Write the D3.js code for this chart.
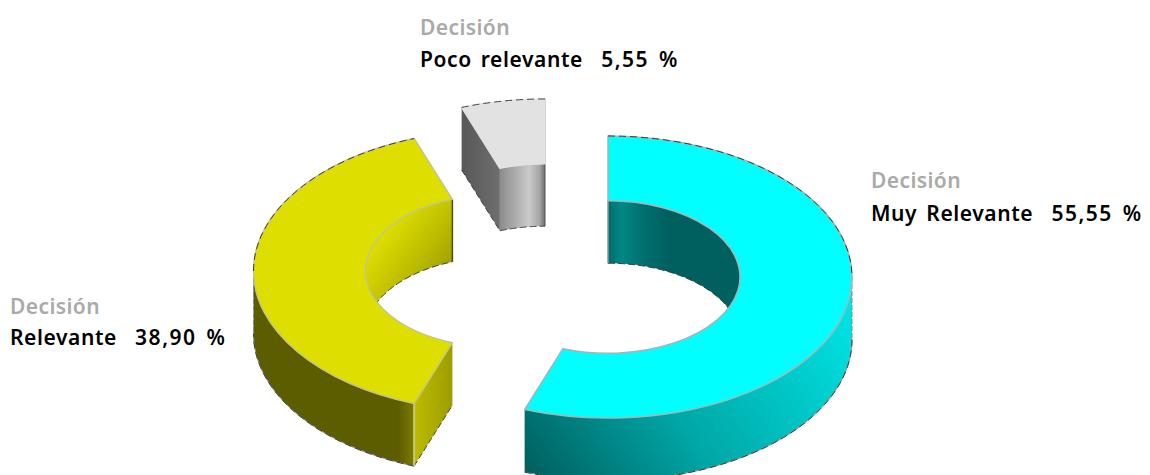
<!DOCTYPE html>
<html>
<head>
<meta charset="utf-8">
<script src="https://cdn.jsdelivr.net/npm/d3@7"></script>
<style>
html,body{margin:0;padding:0;background:#fff}
svg{display:block}
text{font-family:"Noto Sans",sans-serif;font-weight:600;white-space:pre}
</style>
</head>
<body>
<div id="chart"></div>
<script>
const categories = ["Muy Relevante", "Relevante", "Poco relevante"];
const values = [55.55, 38.90, 5.55];
const groupLabel = "Decisión";

const W = 1150, H = 475;
const svg = d3.select("#chart").append("svg").attr("width", W).attr("height", H);
const defs = svg.append("defs");

const outerR = 244, innerR = 132, tilt = 0.578, depth = 62.5;
const centers = [[608, 277], [497.5, 271], [545, 240]];
const labelPos = [[871, 188, 221], [10, 314, 345], [420, 35, 67]];
const fmt = d3.formatLocale({decimal: ",", thousands: ".", grouping: [3], currency: ["", ""]}).format(".2f");

const styles = [
  {top: "#00ffff", edge: "#a8b4b4"},
  {top: "#dede00", edge: "#c4c48c"},
  {top: "#e2e2e2", edge: "#e2e2e2"}
];

function gradient(id, x1, y1, x2, y2, stops) {
  const g = defs.append("linearGradient").attr("id", id).attr("gradientUnits", "userSpaceOnUse")
    .attr("x1", x1).attr("y1", y1).attr("x2", x2).attr("y2", y2);
  stops.forEach(s => g.append("stop").attr("offset", s[0]).attr("stop-color", s[1]));
  return `url(#${id})`;
}
const outerFill = [
  gradient("c-out", 540, 490, 840, 270, [[0, "#005f5f"], [0.42, "#00a8a8"], [0.78, "#00d0d0"], [1, "#00e8e8"]]),
  gradient("y-out", 254, 0, 414, 0, [[0, "#5c5c00"], [0.9, "#5c5c00"], [1, "#7c7c00"]]),
  "#888"
];
const innerFill = [
  gradient("c-in", 608, 0, 740, 0, [[0, "#006c6c"], [0.1, "#008886"], [0.28, "#006e6e"], [0.45, "#006060"], [1, "#006060"]]),
  gradient("y-in", 385, 235, 452, 285, [[0, "#dcdc00"], [0.5, "#bcbc00"], [1, "#949400"]]),
  gradient("g-in", 500, 0, 545, 0, [[0, "#8c8c8c"], [0.3, "#a8a8a8"], [0.65, "#cacaca"], [0.88, "#a6a6a6"], [1, "#6c6c6c"]])
];
const cutFill = [
  null,
  gradient("y-cut", 414, 0, 453, 0, [[0, "#bcbc00"], [1, "#9c9c00"]]),
  gradient("g-cut", 462, 0, 500, 0, [[0, "#585858"], [1, "#6e6e6e"]])
];

const pie = d3.pie().sort(null).startAngle(0).endAngle(2 * Math.PI)(values);
const arc = d3.arc().innerRadius(innerR).outerRadius(outerR);
const line = d3.line();
const Q = Math.PI / 2;
const dash = "#3c3c3c";

pie.forEach((d, i) => {
  const [cx, cy] = centers[i];
  const pt = (r, a, dy = 0) => [cx + r * Math.sin(a), cy - tilt * r * Math.cos(a) + dy];
  const samples = (a0, a1) => { const n = 60; return d3.range(n + 1).map(k => a0 + (a1 - a0) * k / n); };
  const curve = (r, a0, a1, dy) => samples(a0, a1).map(a => pt(r, a, dy));
  const wall = (r, a0, a1) => line(curve(r, a0, a1, 0).concat(curve(r, a1, a0, depth))) + "Z";
  const g = svg.append("g");
  const stroke = (pts, colour, width, dashes) => g.append("path").attr("d", line(pts))
    .attr("fill", "none").attr("stroke", colour).attr("stroke-width", width)
    .attr("stroke-dasharray", dashes || null);

  // inner wall: the back half of the hole
  const inA0 = Math.max(d.startAngle, i === 0 ? 0 : 3 * Q);
  const inA1 = i === 0 ? Math.min(d.endAngle, Q) : d.endAngle;
  g.append("path").attr("d", wall(innerR, inA0, inA1)).attr("fill", innerFill[i]);

  // outer wall: the front half
  if (d.startAngle < 3 * Q && d.endAngle > Q) {
    const a0 = Math.max(d.startAngle, Q), a1 = Math.min(d.endAngle, 3 * Q);
    g.append("path").attr("d", wall(outerR, a0, a1)).attr("fill", outerFill[i]);
    stroke(curve(outerR, a0, a1, depth), "#9a9a9a", 1);
    stroke(curve(outerR, a0, a1, depth), dash, 1, "7 4");
    const side = i === 0 ? a0 : a1;
    stroke([pt(outerR, side), pt(outerR, side, depth)], "#8a8a8a", 1, "5 2");
  }

  // cut face at the start of the slice, seen from the front
  if (cutFill[i]) {
    const a = d.startAngle;
    const pts = [pt(outerR, a), pt(innerR, a), pt(innerR, a, depth), pt(outerR, a, depth)];
    g.append("path").attr("d", line(pts) + "Z").attr("fill", cutFill[i]);
    stroke([pts[3], pts[2]], "#444", 1, "6 3");
  }

  // lower edge of the inner wall
  stroke(curve(innerR, inA0, inA1, depth), dash, 1, "7 3");

  // vertical end strokes
  if (i === 0) stroke([pt(innerR, 0), pt(innerR, 0, depth)], "#8a9a9a", 1.5);
  if (i === 2) stroke([pt(outerR, d.endAngle), pt(innerR, d.endAngle, depth)], "#555", 1);
  if (i === 1) {
    stroke([pt(outerR, d.startAngle), pt(outerR, d.startAngle, depth)], "#c4c48c", 2);
    stroke([pt(innerR, d.endAngle), pt(innerR, d.endAngle, depth)], "#4e4e00", 1.5);
  }

  // top face, drawn with d3.arc and squashed into the tilted plane
  g.append("path").attr("d", arc(d))
    .attr("transform", `translate(${cx},${cy}) scale(1,${tilt})`)
    .attr("fill", styles[i].top)
    .attr("stroke", styles[i].edge).attr("stroke-width", 1.5)
    .attr("vector-effect", "non-scaling-stroke")
    .attr("stroke-linejoin", "round");

  // dashed silhouette along the back of the outer arc
  const back = samples(d.startAngle, d.endAngle).filter(a => Math.cos(a) > -0.02);
  if (back.length) stroke(back.map(a => pt(outerR, a)), dash, 1, "7 4");

  // label
  const [lx, ly1, ly2] = labelPos[i];
  g.append("text").attr("x", lx).attr("y", ly1).attr("font-size", 21).attr("letter-spacing", 0.4)
    .attr("fill", "#aaaaaa").text(groupLabel);
  const t = g.append("text").attr("x", lx).attr("y", ly2).attr("font-size", 21).attr("letter-spacing", 0.6)
    .attr("word-spacing", 3).attr("fill", "#000");
  t.append("tspan").text(`${categories[i]}  `);
  t.append("tspan").attr("letter-spacing", 1.5).text(`${fmt(values[i])} %`);
});
</script>
</body>
</html>
